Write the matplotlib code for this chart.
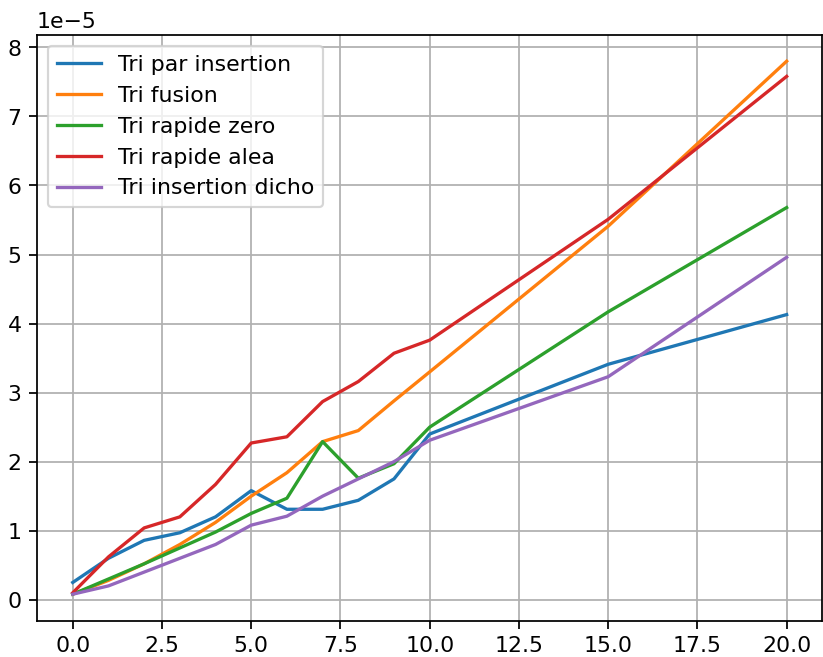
import matplotlib
matplotlib.use("Agg")
import matplotlib.pyplot as plt

# Sizes of the input lists
tailles = [0, 1, 2, 3, 4, 5, 6, 7, 8, 9, 10, 15, 20]

# Execution times (seconds)
t_insertion = [0.25, 0.60, 0.86, 0.97, 1.20, 1.58, 1.31, 1.31, 1.44, 1.75, 2.40, 3.41, 4.13]
t_fusion = [0.08, 0.28, 0.52, 0.80, 1.12, 1.50, 1.84, 2.29, 2.45, 2.88, 3.30, 5.41, 7.80]
t_rapide_zero = [0.08, 0.30, 0.52, 0.75, 0.98, 1.25, 1.47, 2.29, 1.76, 1.97, 2.50, 4.17, 5.68]
t_rapide_alea = [0.10, 0.62, 1.04, 1.20, 1.67, 2.27, 2.36, 2.87, 3.16, 3.57, 3.76, 5.51, 7.58]
t_insertion_dicho = [0.08, 0.20, 0.40, 0.60, 0.80, 1.08, 1.21, 1.50, 1.75, 2.00, 2.31, 3.23, 4.96]

series = [
    ("Tri par insertion", t_insertion),
    ("Tri fusion", t_fusion),
    ("Tri rapide zero", t_rapide_zero),
    ("Tri rapide alea", t_rapide_alea),
    ("Tri insertion dicho", t_insertion_dicho),
]

fig = plt.figure(figsize=(5.21, 4.16), dpi=158)
ax = fig.add_axes([0.045, 0.055, 0.954, 0.892])

for label, vals in series:
    ax.plot(tailles, [v * 1e-5 for v in vals], label=label)

ax.grid(True)
ax.legend(loc="upper left")

fig.savefig("out.png", dpi=158)
